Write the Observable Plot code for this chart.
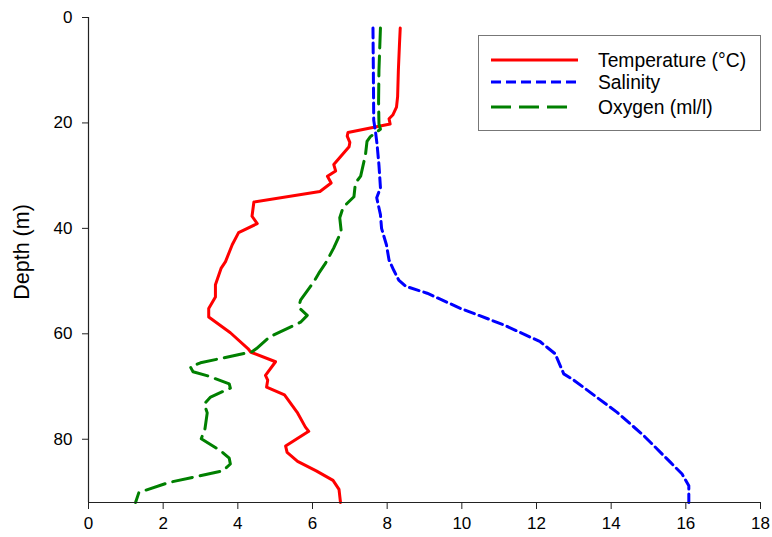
<!DOCTYPE html>
<html>
<head>
<meta charset="utf-8">
<script src="https://cdn.jsdelivr.net/npm/d3@7"></script>
<script src="https://cdn.jsdelivr.net/npm/@observablehq/plot@0.6"></script>
<style>
  html, body { margin: 0; padding: 0; background: #fff; }
  #wrap { position: relative; width: 772px; height: 537px; font-family: "Liberation Sans", Arial, sans-serif; }
  #legend { position: absolute; left: 478px; top: 35px; }
</style>
</head>
<body>
<div id="wrap"></div>
<script>
// Temperature profile (°C)
const tempDepth = [2, 5, 10, 15, 17, 18.5, 19.2, 20.2, 21.8, 22.5, 23.7, 24.5, 27.9, 29.1, 30.1, 31.4, 33, 35, 37.7, 39.1, 40.8, 43.1, 46.3, 47.6, 50.7, 53, 55.2, 56.8, 59.8, 62.8, 63.5, 65.3, 67.9, 68.8, 70.1, 71.6, 74.9, 77.7, 78.5, 81.3, 82.5, 84.2, 86, 87.8, 89.5, 92];
const tempValue = [8.35, 8.33, 8.3, 8.28, 8.25, 8.15, 8.05, 8.08, 6.95, 6.93, 7.0, 6.98, 6.57, 6.62, 6.4, 6.5, 6.2, 4.43, 4.38, 4.52, 4.02, 3.85, 3.67, 3.55, 3.4, 3.4, 3.22, 3.22, 3.8, 4.27, 4.35, 5.01, 4.74, 4.8, 4.77, 5.25, 5.59, 5.81, 5.9, 5.28, 5.32, 5.6, 6.1, 6.55, 6.71, 6.75];

// Salinity profile
const salDepth = [2, 10, 19.5, 21.8, 24.1, 28, 32.3, 34.2, 37.4, 40, 43.1, 46, 48, 49.8, 51, 52.3, 55.2, 58.3, 61.5, 63.8, 67.6, 68.8, 74.9, 79.3, 84.4, 86.6, 88.8, 92];
const salValue = [7.62, 7.63, 7.64, 7.69, 7.73, 7.78, 7.82, 7.72, 7.82, 7.85, 7.98, 8.05, 8.18, 8.31, 8.5, 9.07, 9.97, 11.12, 12.1, 12.5, 12.73, 13.0, 14.16, 14.87, 15.59, 15.9, 16.08, 16.08];

// Oxygen profile (ml/l)
const oxyDepth = [2, 10, 16, 20.2, 21.2, 22.6, 23.5, 26, 30.1, 31.4, 34, 36, 38, 40.6, 43.7, 46.6, 48.5, 50.1, 53.6, 55, 56.5, 57.8, 60.6, 62.8, 63.4, 65.5, 66.3, 67.2, 68, 69.5, 70.3, 72, 73.3, 75, 78, 79.9, 82.3, 83.6, 84.7, 86, 88.2, 90.1, 92];
const oxyValue = [7.82, 7.78, 7.77, 7.78, 7.82, 7.55, 7.46, 7.42, 7.29, 7.15, 7.11, 6.82, 6.73, 6.77, 6.57, 6.35, 6.17, 6.04, 5.68, 5.63, 5.86, 5.68, 4.85, 4.5, 4.38, 3.0, 2.73, 2.8, 3.2, 3.77, 3.8, 3.27, 3.1, 3.18, 3.12, 3.02, 3.56, 3.77, 3.8, 3.6, 2.15, 1.35, 1.26];

const xTicks = [0, 2, 4, 6, 8, 10, 12, 14, 16, 18];
const yTicks = [0, 20, 40, 60, 80];
const seriesNames = ["Temperature (°C)", "Salinity", "Oxygen (ml/l)"];
const seriesColors = ["#ff0000", "#0000ff", "#008000"];
const seriesDash = [null, "10,5", "20,8"];

const rows = (depths, values) => depths.map((d, i) => ({depth: d, value: values[i]}));
const temp = rows(tempDepth, tempValue);
const sal = rows(salDepth, salValue);
const oxy = rows(oxyDepth, oxyValue);

const chart = Plot.plot({
  width: 772,
  height: 537,
  marginLeft: 88,
  marginRight: 12,
  marginTop: 17,
  marginBottom: 35,
  style: {fontFamily: '"Liberation Sans", Arial, sans-serif', fontSize: "17px", color: "#000", background: "#fff"},
  x: {domain: [0, 18]},
  y: {domain: [0, 92], reverse: true},
  marks: [
    Plot.line(temp, {x: "value", y: "depth", stroke: seriesColors[0], strokeWidth: 3}),
    Plot.line(sal, {x: "value", y: "depth", stroke: seriesColors[1], strokeWidth: 3, strokeDasharray: seriesDash[1]}),
    Plot.line(oxy, {x: "value", y: "depth", stroke: seriesColors[2], strokeWidth: 3, strokeDasharray: seriesDash[2]}),
    Plot.ruleX([0], {stroke: "#222", strokeWidth: 1.2}),
    Plot.ruleY([92], {stroke: "#222", strokeWidth: 1.2}),
    Plot.axisX(xTicks, {tickSize: 7, tickPadding: 7, fontSize: 17, label: null, stroke: "#222"}),
    Plot.axisY(yTicks, {tickSize: 6, tickPadding: 10, fontSize: 17, label: null, stroke: "#222"}),
    Plot.text(["Depth (m)"], {frameAnchor: "left", rotate: -90, textAnchor: "middle", dx: -66, dy: -8, fontSize: 21.5, fill: "#000"})
  ]
});
document.getElementById("wrap").appendChild(chart);

// Legend box
const ns = "http://www.w3.org/2000/svg";
const lg = document.createElementNS(ns, "svg");
lg.setAttribute("id", "legend");
lg.setAttribute("width", 284);
lg.setAttribute("height", 97);
const box = document.createElementNS(ns, "rect");
box.setAttribute("x", 0.5); box.setAttribute("y", 0.5);
box.setAttribute("width", 282); box.setAttribute("height", 95);
box.setAttribute("fill", "#fff"); box.setAttribute("stroke", "#777"); box.setAttribute("stroke-width", 1);
lg.appendChild(box);
const rowY = [25, 47, 72];
const lineEnd = [100, 100, 92];
seriesNames.forEach((name, i) => {
  const ln = document.createElementNS(ns, "line");
  ln.setAttribute("x1", 13); ln.setAttribute("x2", lineEnd[i]);
  ln.setAttribute("y1", rowY[i]); ln.setAttribute("y2", rowY[i]);
  ln.setAttribute("stroke", seriesColors[i]); ln.setAttribute("stroke-width", 3);
  if (seriesDash[i]) ln.setAttribute("stroke-dasharray", seriesDash[i]);
  lg.appendChild(ln);
  const tx = document.createElementNS(ns, "text");
  tx.setAttribute("x", 120); tx.setAttribute("y", rowY[i]);
  tx.setAttribute("dy", "0.35em");
  tx.setAttribute("font-size", 19.3);
  tx.setAttribute("font-family", '"Liberation Sans", Arial, sans-serif');
  tx.setAttribute("fill", "#000");
  tx.textContent = name;
  lg.appendChild(tx);
});
document.getElementById("wrap").appendChild(lg);
</script>
</body>
</html>
